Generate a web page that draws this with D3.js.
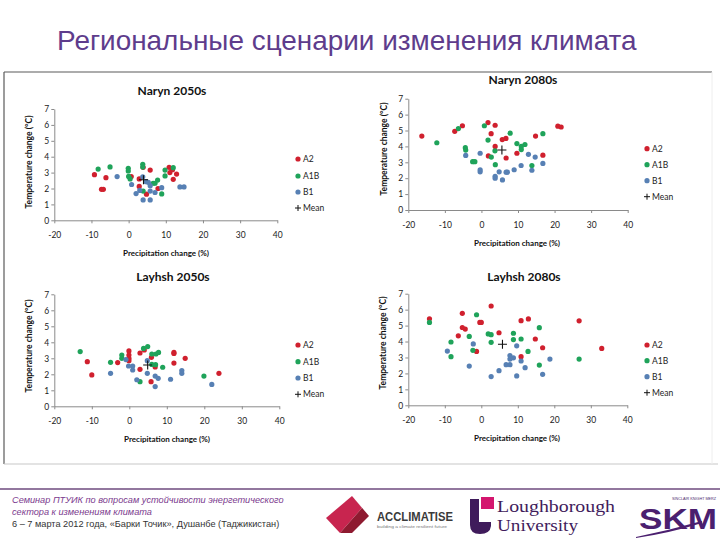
<!DOCTYPE html>
<html>
<head>
<meta charset="utf-8">
<script src="https://cdn.jsdelivr.net/npm/d3@7"></script>
<style>
  html, body { margin: 0; padding: 0; background: #fff; }
  svg { display: block; }
</style>
</head>
<body>
<svg id="chart" width="720" height="540"></svg>
<script>
// ---------- DATA ----------
const pageTitle = "Региональные сценарии изменения климата";
const chartTitles = ["Naryn 2050s", "Naryn 2080s", "Layhsh 2050s", "Layhsh 2080s"];
const xTicks = [-20, -10, 0, 10, 20, 30, 40];
const yTicks = [0, 1, 2, 3, 4, 5, 6, 7];
const seriesNames = ["A2", "A1B", "B1"];
const meanLabel = "Mean";
const xAxisTitle = "Precipitation change  (%)";
const yAxisTitle = "Temperature change (°C)";

const naryn2050_A2 = [[-9.2,2.87],[-6.1,2.68],[-7.3,1.95],[-6.8,1.95],[0.7,2.75],[2.85,2.6],[2.85,2.13],[3.9,3.33],[5.8,3.16],[4.8,1.64],[7.9,2.0],[10.9,3.33],[11.8,3.18],[11.1,3.0],[12.9,2.91],[12.0,2.58]];
const naryn2050_A1B = [[-8.2,3.22],[-5.0,3.36],[-0.1,3.27],[-0.1,3.1],[0,2.76],[0.4,2.6],[3.8,3.52],[3.8,3.35],[3.9,1.84],[6.6,2.33],[7.1,2.33],[7.8,2.53],[9.8,3.16],[9.8,2.79],[12.0,3.31],[8.9,1.66]];
const naryn2050_B1 = [[-3.1,2.75],[0.8,2.25],[3.8,2.74],[4.7,2.43],[5.3,2.39],[5.8,2.18],[2.0,1.68],[3.0,1.88],[5.8,1.84],[7.1,1.75],[8.9,2.05],[3.9,1.28],[5.8,1.28],[13.8,2.1],[14.9,2.1]];
const naryn2050_mean = [4.0, 2.55];

const naryn2080_A2 = [[-16.3,4.65],[-7.3,4.95],[-5.2,5.3],[1.8,5.5],[3.75,5.33],[2.65,4.8],[5.7,4.43],[6.7,4.5],[3.75,4.0],[1.9,3.4],[6.75,3.27],[9.7,3.57],[14.8,4.65],[16.8,3.45],[20.9,5.27],[21.8,5.22]];
const naryn2080_A1B = [[-12.2,4.23],[-6.3,5.12],[-4.4,3.92],[-4.3,3.77],[-2.4,3.04],[-1.8,3.04],[0.8,5.3],[1.8,4.4],[3.7,3.72],[2.7,3.33],[3.8,2.85],[7.85,4.83],[9.7,4.18],[10.9,4.0],[10.9,3.8],[11.9,4.12],[13.8,2.8],[16.8,4.8]];
const naryn2080_B1 = [[-4.3,3.43],[-0.35,3.57],[-0.35,2.53],[-0.35,2.4],[3.75,2.12],[3.75,2.0],[4.85,2.4],[5.75,1.89],[6.75,2.38],[7.1,2.38],[8.95,2.53],[10.85,2.8],[12.85,3.5],[13.8,2.5],[14.7,3.33],[16.8,2.93]];
const naryn2080_mean = [5.6, 3.77];

const layhsh2050_A2 = [[-11.2,2.79],[-10.0,1.96],[-3.1,2.73],[-0.1,3.46],[-0.1,3.2],[-0.1,3.0],[-0.1,2.85],[2.85,3.33],[2.85,2.31],[4.0,3.52],[5.9,3.06],[6.9,2.46],[5.8,1.54],[11.9,3.37],[11.9,3.3],[11.9,2.7],[14.9,3.0],[23.9,2.06]];
const layhsh2050_A1B = [[-13.1,3.42],[-5.0,2.75],[-2.0,3.2],[-2.0,3.0],[3.8,3.62],[4.9,3.73],[6.0,3.27],[7.1,3.27],[7.8,3.37],[6.0,2.62],[7.0,2.6],[8.9,2.44],[2.85,1.54],[19.9,1.89]];
const layhsh2050_B1 = [[-5.0,2.06],[-0.2,2.52],[0.9,2.52],[0.9,2.27],[-0.9,2.92],[4.8,2.85],[4.8,2.06],[2.0,1.66],[6.9,1.89],[7.7,1.75],[6.9,1.23],[11.0,1.69],[14.0,2.23],[14.0,2.06],[22.0,1.37]];
const layhsh2050_mean = [4.9, 2.58];

const layhsh2080_A2 = [[-14.2,5.43],[-5.2,5.77],[2.7,6.23],[-0.4,5.2],[0,5.2],[-5.2,4.88],[-4.4,4.78],[-6.3,4.36],[4.85,4.55],[10.9,5.31],[12.9,5.42],[14.8,4.16],[16.8,3.61],[10.9,3.05],[-1.3,3.38],[26.8,5.3],[33.0,3.57]];
const layhsh2080_A1B = [[-14.2,5.2],[-1.3,5.68],[-8.3,3.97],[-8.3,3.05],[-3.3,4.32],[-2.3,3.45],[1.9,4.48],[2.7,4.43],[2.7,3.95],[8.8,4.52],[8.8,4.12],[10.9,4.16],[15.9,4.87],[12.8,3.38],[15.9,2.52],[26.8,2.9]];
const layhsh2080_B1 = [[-9.3,3.4],[-2.2,3.85],[-3.3,2.46],[2.7,1.8],[4.85,2.17],[6.8,2.55],[7.85,2.55],[7.85,3.12],[8.8,2.98],[7.85,2.9],[9.7,3.73],[10.9,2.78],[12.0,2.36],[9.7,1.84],[16.8,1.94],[18.8,2.9]];
const layhsh2080_mean = [5.8, 3.83];

const footerLines = [
  "Семинар ПТУИК по вопросам устойчивости энергетического",
  "сектора к изменениям климата",
  "6 – 7 марта 2012 года, «Барки Точик», Душанбе (Таджикистан)"
];

// ---------- STYLE / LAYOUT ----------
const seriesColors = ["#D0202E", "#1FA35A", "#5780B4"];
const chartFont = "Lato, 'Open Sans', sans-serif";

const panels = [
  { title: chartTitles[0], series: [naryn2050_A2, naryn2050_A1B, naryn2050_B1], mean: naryn2050_mean,
    xr: [54.3, 277.3], yr: [220.3, 109], tt: [172, 95], lx: 298, ly: [159, 176, 192, 208], ylx: 29, yly: 162, xly: 256, xlx: 166 },
  { title: chartTitles[1], series: [naryn2080_A2, naryn2080_A1B, naryn2080_B1], mean: naryn2080_mean,
    xr: [408.3, 627.7], yr: [210, 98.7], tt: [523, 84], lx: 647, ly: [148.7, 164.7, 180.7, 196.7], ylx: 384, yly: 149, xly: 245.5, xlx: 517 },
  { title: chartTitles[2], series: [layhsh2050_A2, layhsh2050_A1B, layhsh2050_B1], mean: layhsh2050_mean,
    xr: [54.3, 279.3], yr: [406.3, 294.3], tt: [173, 281], lx: 298, ly: [345, 361.7, 378, 394.3], ylx: 29, yly: 346, xly: 442, xlx: 167 },
  { title: chartTitles[3], series: [layhsh2080_A2, layhsh2080_A1B, layhsh2080_B1], mean: layhsh2080_mean,
    xr: [408.3, 627.3], yr: [405.3, 293.7], tt: [524, 281], lx: 647, ly: [345, 360.7, 376.7, 392.7], ylx: 383, yly: 343, xly: 441, xlx: 517 }
];

const svg = d3.select("#chart");

// page title
const titleText = svg.append("text")
  .attr("x", 57).attr("y", 50)
  .attr("font-family", "Arial, 'Liberation Sans', sans-serif")
  .attr("font-size", 24)
  .attr("fill", "#5E3C8C")
  .text(pageTitle);
const tw = titleText.node().getComputedTextLength();
titleText.attr("font-size", 24 * 580 / tw);

// frame box
svg.append("line").attr("x1", 4).attr("x2", 712).attr("y1", 72).attr("y2", 72).attr("stroke", "#5a5a5a").attr("stroke-width", 1.2);
svg.append("line").attr("x1", 4).attr("x2", 4).attr("y1", 72).attr("y2", 464).attr("stroke", "#5a5a5a").attr("stroke-width", 1.2);
svg.append("line").attr("x1", 4).attr("x2", 718).attr("y1", 464).attr("y2", 464).attr("stroke", "#c8c8c8").attr("stroke-width", 1.2);
svg.append("line").attr("x1", 712).attr("x2", 712).attr("y1", 72).attr("y2", 464).attr("stroke", "#eeeeee").attr("stroke-width", 1);

const plusPath = (cx, cy, h) => `M${cx - h},${cy}H${cx + h}M${cx},${cy - h}V${cy + h}`;

panels.forEach(p => {
  const g = svg.append("g");
  const x = d3.scaleLinear().domain([xTicks[0], xTicks[xTicks.length - 1]]).range(p.xr);
  const y = d3.scaleLinear().domain([yTicks[0], yTicks[yTicks.length - 1]]).range(p.yr);

  const xa = g.append("g").attr("transform", `translate(0,${y(0)})`)
    .call(d3.axisBottom(x).tickValues(xTicks).tickSize(3).tickSizeOuter(0).tickPadding(9).tickFormat(d3.format("d")));
  const ya = g.append("g").attr("transform", `translate(${x(xTicks[0])},0)`)
    .call(d3.axisLeft(y).tickValues(yTicks).tickSize(3).tickSizeOuter(0).tickPadding(2).tickFormat(d3.format("d")));
  [xa, ya].forEach(a => {
    a.select(".domain").attr("stroke", "#8a8a8a");
    a.selectAll(".tick line").attr("stroke", "#8a8a8a");
    a.selectAll(".tick text").attr("font-family", chartFont).attr("font-size", 8.5).attr("fill", "#222");
  });
  xa.selectAll(".tick text").text(d => d < 0 ? "-" + Math.abs(d) : d);

  g.append("text").attr("x", p.tt[0]).attr("y", p.tt[1]).attr("text-anchor", "middle")
    .attr("font-family", chartFont).attr("font-weight", "bold").attr("font-size", 12).attr("fill", "#111")
    .text(p.title);
  g.append("text").attr("x", p.xlx).attr("y", p.xly).attr("text-anchor", "middle")
    .attr("font-family", chartFont).attr("font-weight", "bold").attr("font-size", 8).attr("fill", "#111")
    .text(xAxisTitle);
  g.append("text").attr("transform", `translate(${p.ylx},${p.yly}) rotate(-90)`).attr("text-anchor", "middle")
    .attr("dy", "0.35em")
    .attr("font-family", chartFont).attr("font-weight", "bold").attr("font-size", 8.5).attr("fill", "#111")
    .text(yAxisTitle);

  p.series.forEach((s, i) => {
    g.append("g").selectAll("circle").data(s).join("circle")
      .attr("cx", d => x(d[0])).attr("cy", d => y(d[1])).attr("r", 2.6)
      .attr("fill", seriesColors[i]);
  });
  g.append("path").attr("d", plusPath(x(p.mean[0]), y(p.mean[1]), 4.5))
    .attr("stroke", "#111").attr("stroke-width", 1.1).attr("fill", "none");

  seriesNames.forEach((n, i) => {
    g.append("circle").attr("cx", p.lx).attr("cy", p.ly[i]).attr("r", 2.6).attr("fill", seriesColors[i]);
    g.append("text").attr("x", p.lx + 5).attr("y", p.ly[i]).attr("dy", "0.35em")
      .attr("font-family", chartFont).attr("font-size", 8.5).attr("fill", "#222").text(n);
  });
  g.append("path").attr("d", plusPath(p.lx, p.ly[3], 3)).attr("stroke", "#111").attr("stroke-width", 1).attr("fill", "none");
  g.append("text").attr("x", p.lx + 5).attr("y", p.ly[3]).attr("dy", "0.35em")
    .attr("font-family", chartFont).attr("font-size", 8.5).attr("fill", "#222").text(meanLabel);
});

// ---------- FOOTER ----------
svg.append("line").attr("x1", 0).attr("x2", 720).attr("y1", 489).attr("y2", 489)
  .attr("stroke", "#6E4A7E").attr("stroke-width", 1.5);
const fColors = ["#7B3A8E", "#7B3A8E", "#333"];
footerLines.forEach((t, i) => {
  svg.append("text").attr("x", 12).attr("y", 503 + i * 12)
    .attr("font-family", "Arial, 'Liberation Sans', sans-serif")
    .attr("font-style", i < 2 ? "italic" : "normal")
    .attr("font-size", 9.2).attr("fill", fColors[i]).text(t);
});

// ACCLIMATISE logo
svg.append("path").attr("d", "M326,518 L352,496 L362,508 L340,533 Z").attr("fill", "#C8254F");
svg.append("path").attr("d", "M352,496 L369,516 L352,533 L340,533 L362,508 Z").attr("fill", "#8E1A30");
svg.append("text").attr("x", 377).attr("y", 521).attr("font-family", "'Liberation Sans Narrow', Arial, sans-serif")
  .attr("font-weight", "bold").attr("font-size", 12).attr("fill", "#3a3a3a")
  .attr("textLength", 76).attr("lengthAdjust", "spacingAndGlyphs").text("ACCLIMATISE");
svg.append("text").attr("x", 377).attr("y", 528).attr("font-family", "Arial, sans-serif")
  .attr("font-size", 4).attr("fill", "#777").attr("textLength", 70).attr("lengthAdjust", "spacingAndGlyphs")
  .text("building a climate resilient future");

// Loughborough logo
svg.append("path").attr("d", "M470,499 H479 V522 H491 V526 Q490,534 480,534 Q470,534 470,525 Z").attr("fill", "#3F1B5B");
svg.append("rect").attr("x", 481).attr("y", 497).attr("width", 13).attr("height", 12).attr("fill", "#D4166E");
svg.append("text").attr("x", 497).attr("y", 512).attr("font-family", "'Liberation Serif', 'DejaVu Serif', serif")
  .attr("font-size", 16).attr("fill", "#3F1B5B").attr("textLength", 118).attr("lengthAdjust", "spacingAndGlyphs").text("Loughborough");
svg.append("text").attr("x", 497).attr("y", 531).attr("font-family", "'Liberation Serif', 'DejaVu Serif', serif")
  .attr("font-size", 16).attr("fill", "#3F1B5B").attr("textLength", 81).attr("lengthAdjust", "spacingAndGlyphs").text("University");

// SKM logo
svg.append("text").attr("x", 672).attr("y", 500).attr("font-family", "Arial, sans-serif")
  .attr("font-size", 4).attr("fill", "#4B1F6F").attr("textLength", 44).attr("lengthAdjust", "spacingAndGlyphs")
  .text("SINCLAIR KNIGHT MERZ");
svg.append("text").attr("x", 639).attr("y", 529).attr("font-family", "Arial, 'Liberation Sans', sans-serif")
  .attr("font-weight", "bold").attr("font-size", 30).attr("fill", "#4B1F6F")
  .attr("textLength", 78).attr("lengthAdjust", "spacingAndGlyphs").text("SKM");
svg.append("path").attr("d", "M636,537 Q670,530 702,521 L702,523 Q670,533 636,538 Z").attr("fill", "#4B1F6F");
</script>
</body>
</html>
